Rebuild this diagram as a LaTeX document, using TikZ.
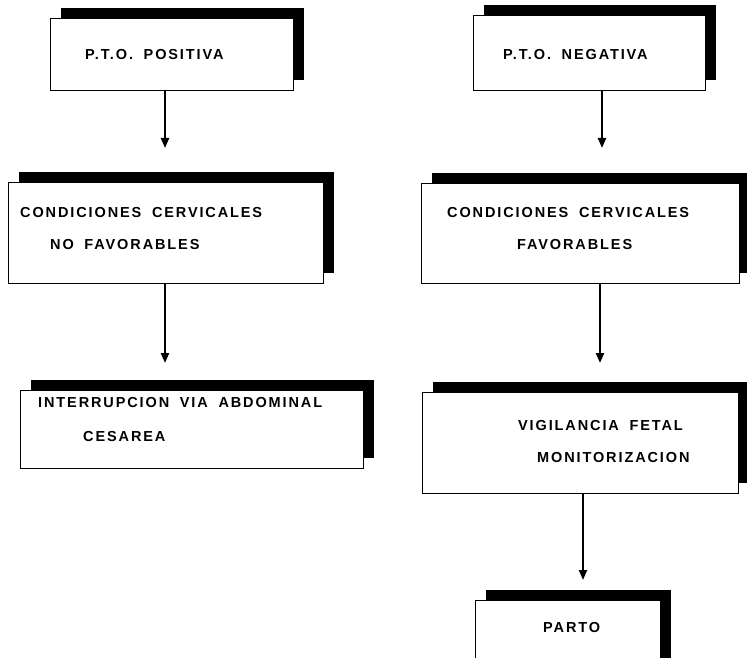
\documentclass[tikz,border=0pt]{standalone}
\usepackage{fontspec}
\setmainfont{Liberation Sans}
\newfontfamily\boxfont[LetterSpace=13,WordSpace=1.8,UprightFont=* Bold]{Liberation Sans}
\usetikzlibrary{arrows.meta,shadows}
\tikzset{
  box/.style={draw=black, line width=1.2pt, fill=white, rectangle, anchor=north west, inner sep=0pt,
    drop shadow={shadow xshift=10pt, shadow yshift=11pt, fill=black, opacity=1}},
  txt/.style={anchor=west, inner sep=0pt, font=\boxfont\fontsize{14.5}{16}\selectfont},
  arr/.style={line width=2.2pt, -{Triangle[length=10pt,width=8pt]}}
}
\begin{document}
\begin{tikzpicture}[x=1pt,y=-1pt]
\useasboundingbox (0,0) rectangle (747,658);
\clip (0,0) rectangle (747,658);
% boxes
\node[box, minimum width=243pt, minimum height=72pt] (b1) at (50,18) {};
\node[box, minimum width=232pt, minimum height=75pt] (b2) at (473,15) {};
\node[box, minimum width=315pt, minimum height=101pt] (b3) at (8,182) {};
\node[box, minimum width=318pt, minimum height=100pt] (b4) at (421,183) {};
\node[box, minimum width=343pt, minimum height=78pt] (b5) at (20,390) {};
\node[box, minimum width=316pt, minimum height=101pt] (b6) at (422,392) {};
\node[box, minimum width=185pt, minimum height=80pt] (b7) at (475,600) {};
% texts
\node[txt] (t1) at (85,55) {P.T.O. POSITIVA};
\node[txt] (t2) at (503,55) {P.T.O. NEGATIVA};
\node[txt] (t3a) at (20,213) {CONDICIONES CERVICALES};
\node[txt] (t3b) at (50,245) {NO FAVORABLES};
\node[txt] (t4a) at (447,213) {CONDICIONES CERVICALES};
\node[txt] (t4b) at (517,245) {FAVORABLES};
\node[txt] (t5a) at (38,403) {INTERRUPCION VIA ABDOMINAL};
\node[txt] (t5b) at (83,437) {CESAREA};
\node[txt] (t6a) at (518,426) {VIGILANCIA FETAL};
\node[txt] (t6b) at (537,458) {MONITORIZACION};
\node[txt] (t7) at (543,628) {PARTO};
% arrow ends
\coordinate (e1) at (165,148);
\coordinate (e2) at (602,148);
\coordinate (e3) at (165,363);
\coordinate (e4) at (600,363);
\coordinate (e5) at (583,580);
\draw[arr] (b1.south -| e1) -- (e1);
\draw[arr] (b2.south -| e2) -- (e2);
\draw[arr] (b3.south -| e3) -- (e3);
\draw[arr] (b4.south -| e4) -- (e4);
\draw[arr] (b6.south -| e5) -- (e5);
\end{tikzpicture}
\end{document}
